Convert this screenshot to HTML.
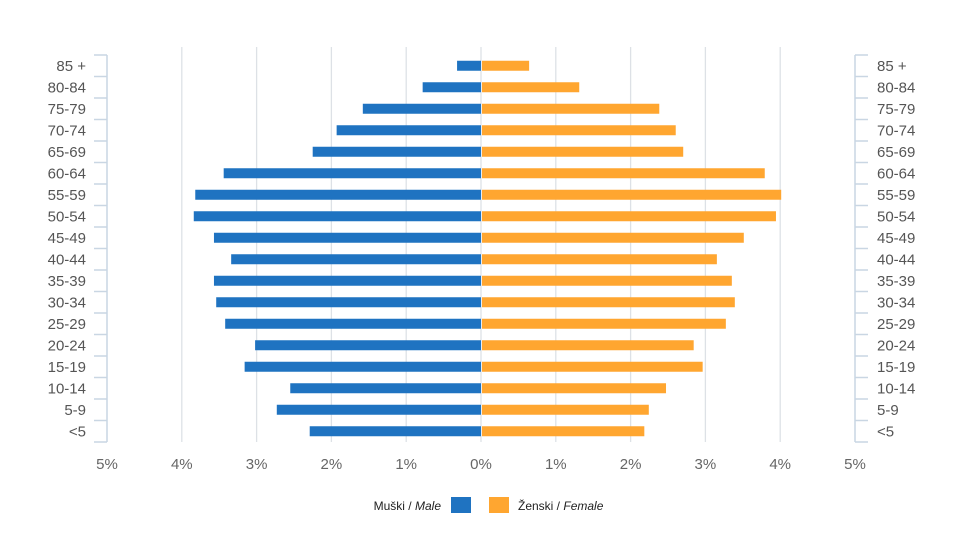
<!DOCTYPE html>
<html><head><meta charset="utf-8"><style>
body{margin:0;background:#fff;font-family:"Liberation Sans",sans-serif}
</style></head><body>
<svg id="c" width="957" height="534" xmlns="http://www.w3.org/2000/svg"></svg>
<script>
const categories=["85 +","80-84","75-79","70-74","65-69","60-64","55-59","50-54","45-49","40-44","35-39","30-34","25-29","20-24","15-19","10-14","5-9","<5"];
const maleValues=[0.32,0.78,1.58,1.93,2.25,3.44,3.82,3.84,3.57,3.34,3.57,3.54,3.42,3.02,3.16,2.55,2.73,2.29];
const femaleValues=[0.63,1.30,2.37,2.59,2.69,3.78,4.0,3.93,3.50,3.14,3.34,3.38,3.26,2.83,2.95,2.46,2.23,2.17];
const tickValues=[-5,-4,-3,-2,-1,0,1,2,3,4,5];
const tickLabels=["5%","4%","3%","2%","1%","0%","1%","2%","3%","4%","5%"];
const svgEl=document.getElementById('c');const NS="http://www.w3.org/2000/svg";
const zeroX=481,unitPx=74.8,plotTop=55,rowH=21.5;
const xs=v=>zeroX+v*unitPx;
const yc=i=>plotTop+rowH*(i+0.5);
function mk(t,a){const e=document.createElementNS(NS,t);for(const k in a)e.setAttribute(k,a[k]);svgEl.appendChild(e);return e;}
const nRows=categories.length,plotBottom=plotTop+rowH*nRows;
tickValues.forEach((v,i)=>{
 if(Math.abs(v)<5){const g=mk('line',{x1:xs(v),x2:xs(v),y1:plotTop-8,y2:plotBottom,stroke:'#dde1e6','stroke-width':1.3});
 
 }
 const t=mk('text',{x:xs(v),y:plotBottom+27,'text-anchor':'middle','font-size':15,fill:'#666'});t.textContent=tickLabels[i];
 
 
});
[[xs(-5),-13],[xs(5),13]].forEach(([ax,d])=>{
 const l=mk('line',{x1:ax,x2:ax,y1:plotTop,y2:plotBottom,stroke:'#c9d6e3','stroke-width':1.5});
 
 
 for(let i=0;i<=nRows;i++){const t=mk('line',{x1:ax,x2:ax+d,y1:plotTop+rowH*i,y2:plotTop+rowH*i,stroke:'#c9d6e3','stroke-width':1.5});
 
 }
});
categories.forEach((c,i)=>{
 const y=yc(i);
 const a=mk('text',{x:86,y:y+5,'text-anchor':'end','font-size':15,fill:'#555'});a.textContent=c;
 
 
 const b=mk('text',{x:877,y:y+5,'font-size':15,fill:'#555'});b.textContent=c;
 
 
 const m=mk('rect',{x:xs(-maleValues[i]),y:y-5,width:maleValues[i]*unitPx,height:10,fill:'#1f73c1'});
 
 
 const f=mk('rect',{x:zeroX+1,y:y-5,width:femaleValues[i]*unitPx,height:10,fill:'#ffa630'});
 
 
});
</script>
<div style="position:absolute;left:0;top:496px;width:957px;font-size:12px;color:#222">
 <span style="position:absolute;right:516px;top:3px;white-space:nowrap">Muški / <i>Male</i></span>
 <span style="position:absolute;left:451px;top:1px;width:20px;height:16px;background:#1f73c1"></span>
 <span style="position:absolute;left:489px;top:1px;width:20px;height:16px;background:#ffa630"></span>
 <span style="position:absolute;left:518px;top:3px;white-space:nowrap">Ženski / <i>Female</i></span>
</div>
</body></html>
